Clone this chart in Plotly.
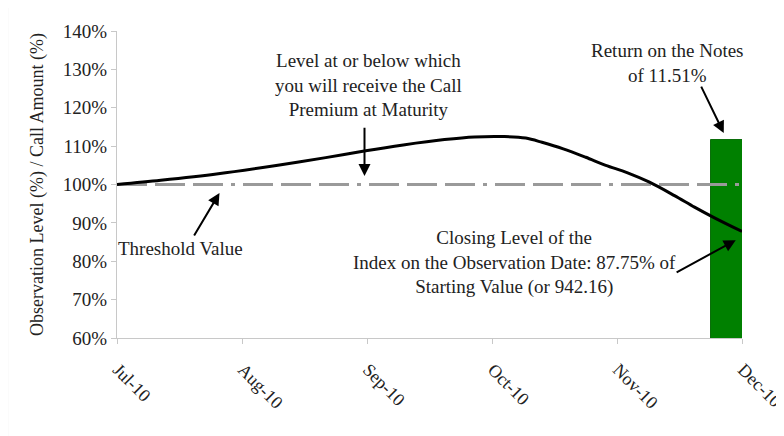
import plotly.graph_objects as go

# ---- data ----
month_labels = ["Jul-10", "Aug-10", "Sep-10", "Oct-10", "Nov-10", "Dec-10"]
month_pos = [0, 1, 2, 3, 4, 5]

# index level path (x in months since Jul-10, y in % of starting value)
obs_x = [0.0, 0.35, 0.81, 1.30, 1.67, 1.99, 2.29, 2.62, 2.86, 3.10, 3.27, 3.40,
         3.57, 3.75, 3.91, 4.08, 4.26, 4.46, 4.62, 4.78, 5.0]
obs_level = [100.0, 101.1, 102.8, 105.1, 107.0, 108.8, 110.3, 111.7, 112.4, 112.5,
             112.1, 111.0, 109.3, 107.1, 105.0, 103.1, 100.6, 97.1, 94.1, 91.3, 87.75]

threshold_x = [0, 5]
threshold_level = [100, 100]

return_x = [4.885]
return_level = [111.51]

FONT = "Liberation Serif, Times New Roman, serif"
TXT = "#222222"

fig = go.Figure()
fig.add_trace(go.Bar(x=return_x, y=return_level, width=0.27,
                     marker=dict(color="#008000", line=dict(color="#0b6e0b", width=1)),
                     showlegend=False, hoverinfo="skip"))
fig.add_trace(go.Scatter(x=threshold_x, y=threshold_level, mode="lines",
                         line=dict(color="#9a9a9a", width=3,
                                   dash="30px,8px,30px,8px,30px,8px,4px,8px"),
                         showlegend=False))
fig.add_trace(go.Scatter(x=obs_x, y=obs_level, mode="lines",
                         line=dict(color="black", width=3, shape="spline", smoothing=0.9),
                         showlegend=False))

# page body has an 8px margin, so the figure is sized/offset to compensate
fig.update_layout(
    width=776, height=428,
    margin=dict(l=109, r=42, t=23, b=98),
    paper_bgcolor="white", plot_bgcolor="white",
    font=dict(family=FONT, color=TXT, size=19),
    bargap=0,
)
fig.update_xaxes(range=[0, 5], tickmode="array", tickvals=month_pos, ticktext=month_labels,
                 tickangle=45, showline=True, linecolor="#c8c8c8", linewidth=1,
                 ticks="outside", ticklen=5, tickcolor="#c8c8c8", showgrid=False,
                 zeroline=False, tickfont=dict(size=18, color=TXT), automargin=False,
                 ticklabelstandoff=8, ticklabelshift=1, ticklabeloverflow="allow")
fig.update_yaxes(range=[60, 140], dtick=10, ticksuffix="%", showline=True,
                 linecolor="#c8c8c8", linewidth=1, ticks="outside", ticklen=5,
                 tickcolor="#c8c8c8", showgrid=False, zeroline=False,
                 tickfont=dict(size=19, color=TXT), automargin=False,
                 title=dict(text="Observation Level (%) / Call Amount (%)",
                            font=dict(size=18, color=TXT), standoff=14))

# outer frame (only top/left edges visible in the crop)
fig.add_shape(type="rect", xref="paper", yref="paper",
              x0=(9 - 117) / 617, x1=1.2, y0=-0.5, y1=(338 - 7) / 307,
              line=dict(color="#d0d0d0", width=1), layer="below")

def arrow(x_head, y_head, x_tail, y_tail):
    fig.add_annotation(x=x_head, y=y_head, ax=x_tail, ay=y_tail, xref="x", yref="y",
                       axref="x", ayref="y", text="", showarrow=True, arrowhead=2,
                       arrowsize=1.2, arrowwidth=2, arrowcolor="black")

def label(x, y, text):
    fig.add_annotation(x=x, y=y, xref="x", yref="y", text=text, showarrow=False,
                       font=dict(size=19, color=TXT), align="center")

label(2.01, 125.9, "Level at or below which<br>you will receive the Call<br>Premium at Maturity")
arrow(1.98, 102.2, 1.98, 115.2)

label(0.51, 83.2, "Threshold Value")
arrow(0.82, 97.8, 0.61, 86.3)

label(3.18, 79.7, "Closing Level of the<br>Index on the Observation Date: 87.75% of<br>Starting Value (or 942.16)")
arrow(4.95, 85.5, 4.465, 76.9)

label(4.40, 131.7, "Return on the Notes<br>of 11.51%")
arrow(4.854, 113.4, 4.668, 125.9)

fig.write_html("out.html")
